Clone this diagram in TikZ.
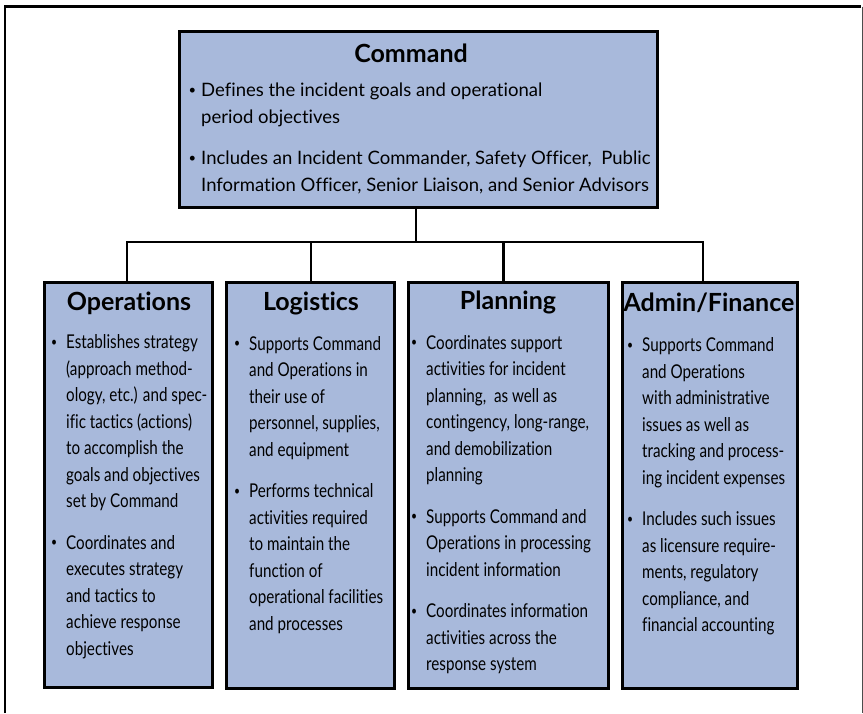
\documentclass[tikz,border=0pt]{standalone}
\usepackage{fontspec}
\setmainfont[Ligatures=NoCommon]{Lato}
\newfontfamily\narrowfont[FakeStretch=0.8,Ligatures=NoCommon]{Lato}
\definecolor{boxfill}{RGB}{168,185,219}
\tikzset{
  box/.style={draw=black, line width=2.6pt, fill=boxfill, anchor=north west, inner sep=0pt, outer sep=0pt},
  ttl/.style={font=\bfseries\fontsize{25}{29}\selectfont, anchor=base, inner sep=0pt},
  body/.style={font=\narrowfont\fontsize{19}{26.5}\selectfont, align=left, anchor=north west, inner sep=0pt},
  cbody/.style={font=\fontsize{18.5}{26.5}\selectfont, align=left, anchor=north west, inner sep=0pt},
  conn/.style={line width=2.9pt}
}
\newcommand{\bul}{\llap{\raisebox{0.25ex}{\fontsize{13}{13}\selectfont\textbullet}\hspace{9pt}}}
\newcommand{\cbul}{\llap{\raisebox{0.25ex}{\fontsize{13}{13}\selectfont\textbullet}\hspace{5pt}}}
\begin{document}
\begin{tikzpicture}[x=1pt,y=-1pt]
\useasboundingbox (0,0) rectangle (863,713);
% frame
\draw[line width=2.6pt] (5,713) -- (5,6.5) -- (861,6.5);
\draw[line width=1.4pt, black!70] (862.2,6.5) -- (862.2,713);
% boxes
\node[box, minimum width=478.4pt, minimum height=176.4pt] (cmd) at (179.3,31.3) {};
\node[box, minimum width=168.4pt, minimum height=405.4pt] (ops) at (44.3,282.3) {};
\node[box, minimum width=168.4pt, minimum height=406.4pt] (log) at (226.3,282.3) {};
\node[box, minimum width=200.4pt, minimum height=406.4pt] (pln) at (408.3,282.3) {};
\node[box, minimum width=175.4pt, minimum height=406.4pt] (adm) at (622.3,282.3) {};
% connectors
\coordinate (busL) at (127,242);
\coordinate (busR) at (703,242);
\coordinate (busC) at (416,242);
\coordinate (d2) at (311,242);
\coordinate (d3) at (503.5,242);
\draw[conn] (busL |- ops.north) -- (busL) -- (busR) -- (busR |- adm.north);
\draw[conn] (busC |- cmd.south) -- (busC);
\draw[conn] (d2) -- (d2 |- log.north);
\draw[conn] (d3) -- (d3 |- pln.north);
% titles
\node[ttl] (cmdT) at (411,62) {Command};
\node[ttl] (opsT) at (129,310) {Operations};
\node[ttl] (logT) at (311,310) {Logistics};
\node[ttl] (plnT) at (508,309) {Planning};
\node[ttl] (admT) at (709,311) {Admin/Finance};
% bodies
\node[cbody] (cmdB) at (201,78.2) {\cbul\strut Defines the incident goals and operational\\
period objectives\\[15pt]
\cbul Includes an Incident Commander, Safety Officer,\ \ Public\\
Information Officer, Senior Liaison, and Senior Advisors};
\node[body] (opsB) at (66,329.8) {\bul\strut Establishes strategy\\
(approach method-\\
ology, etc.) and spec-\\
ific tactics (actions)\\
to accomplish the\\
goals and objectives\\
set by Command\\[15pt]
\bul Coordinates and\\
executes strategy\\
and tactics to\\
achieve response\\
objectives};
\node[body] (logB) at (249,331.5) {\bul\strut Supports Command\\
and Operations in\\
their use of\\
personnel, supplies,\\
and equipment\\[15pt]
\bul Performs technical\\
activities required\\
to maintain the\\
function of\\
operational facilities\\
and processes};
\node[body] (plnB) at (426,330.5) {\bul\strut Coordinates support\\
activities for incident\\
planning,\ \ as well as\\
contingency, long-range,\\
and demobilization\\
planning\\[15pt]
\bul Supports Command and\\
Operations in processing\\
incident information\\[15pt]
\bul Coordinates information\\
activities across the\\
response system};
\node[body] (admB) at (642,333.2) {\bul\strut Supports Command\\
and Operations\\
with administrative\\
issues as well as\\
tracking and process-\\
ing incident expenses\\[15pt]
\bul Includes such issues\\
as licensure require-\\
ments, regulatory\\
compliance, and\\
financial accounting};
\end{tikzpicture}
\end{document}
